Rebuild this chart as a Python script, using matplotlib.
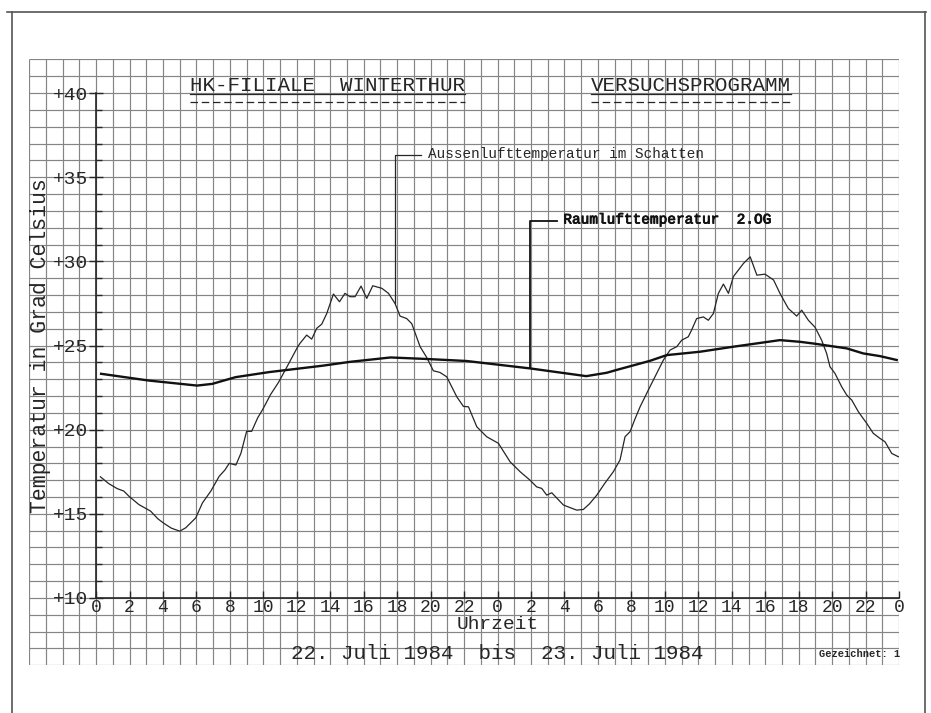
import numpy as np
import matplotlib
matplotlib.use("Agg")
import matplotlib.pyplot as plt
import matplotlib.patheffects as pe
from matplotlib.ticker import FixedLocator

# Stunden ab 22. Juli 0 Uhr
aussen_h = [0.26, 0.75, 1.26, 1.66, 1.96, 2.56, 3.26, 3.70, 4.06, 4.50, 5.00, 5.36,
            5.96, 6.36, 6.86, 7.36, 7.70, 7.96, 8.36, 8.66, 9.00, 9.30, 9.66, 9.96,
            10.44, 10.90, 11.34, 12.04, 12.19, 12.59, 12.89, 13.19, 13.49, 13.79,
            14.19, 14.55, 14.88, 15.18, 15.48, 15.84, 16.18, 16.54, 17.08, 17.48,
            17.87, 18.17, 18.57, 18.87, 19.37, 19.76, 20.16, 20.56, 20.96, 21.56,
            21.96, 22.26, 22.76, 23.35, 24.05, 24.75, 25.35, 25.94, 26.34, 26.64,
            26.94, 27.24, 27.94, 28.73, 29.13, 29.50, 29.93, 30.40, 30.92, 31.32,
            31.62, 31.92, 32.20, 32.52, 33.11, 33.91, 34.31, 34.71, 35.01, 35.40,
            35.60, 35.90, 36.30, 36.60, 36.90, 37.20, 37.50, 37.80, 38.10, 38.70,
            39.10, 39.50, 39.99, 40.50, 40.88, 41.38, 41.88, 42.18, 42.58, 42.98,
            43.37, 43.67, 43.87, 44.17, 44.57, 44.87, 45.17, 45.57, 46.07, 46.46,
            46.86, 47.16, 47.56, 47.96]
aussen_t = [17.2, 16.8, 16.5, 16.35, 16.05, 15.55, 15.16, 14.7, 14.43, 14.15, 13.97, 14.17,
            14.76, 15.65, 16.35, 17.23, 17.6, 18.0, 17.9, 18.6, 19.9, 19.9, 20.7, 21.2,
            22.1, 22.8, 23.6, 24.9, 25.13, 25.62, 25.38, 26.02, 26.27, 26.9,
            28.06, 27.6, 28.1, 27.9, 27.9, 28.53, 27.8, 28.55, 28.4, 28.1,
            27.5, 26.75, 26.6, 26.3, 24.93, 24.3, 23.5, 23.4, 23.14, 21.96,
            21.38, 21.36, 20.17, 19.58, 19.19, 18.09, 17.5, 17.0, 16.6, 16.51,
            16.11, 16.25, 15.52, 15.22, 15.26, 15.6, 16.11, 16.8, 17.5, 18.2,
            19.58, 19.88, 20.6, 21.36, 22.55, 24.13, 24.73, 24.93, 25.32, 25.52,
            25.92, 26.6, 26.7, 26.5, 26.9, 28.1, 28.65, 28.1, 29.1, 29.88,
            30.27, 29.18, 29.24, 28.89, 28.1, 27.2, 26.75, 27.1, 26.5, 26.08,
            25.32, 24.53, 23.74, 23.34, 22.55, 22.06, 21.76, 21.06, 20.37, 19.78,
            19.48, 19.28, 18.59, 18.39]

raum_h = [0.30, 3.14, 6.04, 6.94, 8.34, 10.34, 12.19, 13.54, 15.18, 17.60, 19.77,
          22.15, 25.94, 29.30, 30.52, 31.12, 33.11, 34.11, 36.10, 38.10, 40.88,
          42.08, 42.87, 44.87, 45.86, 46.86, 47.86]
raum_t = [23.32, 22.92, 22.62, 22.72, 23.12, 23.42, 23.64, 23.80, 24.03, 24.29, 24.20,
          24.08, 23.64, 23.18, 23.38, 23.55, 24.09, 24.43, 24.63, 24.93, 25.32,
          25.22, 25.12, 24.83, 24.53, 24.37, 24.14]

hour_ticks = list(range(0, 49, 2))
hour_labels = [str(h % 24) for h in hour_ticks]
temp_ticks = [10, 15, 20, 25, 30, 35, 40]
temp_labels = ["+%d" % t for t in temp_ticks]

plt.rcParams["font.family"] = ["Liberation Mono", "DejaVu Sans Mono"]
INK = "#262626"
GRID = "#858585"

fig = plt.figure(figsize=(9.31, 7.13), dpi=100)
fig.patch.set_facecolor("white")

# rahmen
for xs, ys in [([7 / 931, 926 / 931], [1 - 12 / 713, 1 - 12 / 713]),
               ([12 / 931, 12 / 931], [0, 1 - 12 / 713]),
               ([925 / 931, 925 / 931], [0, 1 - 12 / 713])]:
    fig.add_artist(plt.Line2D(xs, ys, transform=fig.transFigure, color="#555555", lw=1.2))

ax = fig.add_axes([0.0313, 0.0669, 0.9344, 0.8498])
ax.set_xlim(-4, 48)
ax.set_ylim(6, 42)
ax.patch.set_alpha(0)

# millimeterpapier
ax.vlines(np.arange(-4, 49), 6, 42, color=GRID, lw=0.85, zorder=0)
ax.hlines(np.arange(6, 43), -4, 48, color=GRID, lw=0.85, zorder=0)

for s in ["top", "right"]:
    ax.spines[s].set_visible(False)
ax.spines["left"].set_position(("data", 0))
ax.spines["left"].set_bounds(10, 40)
ax.spines["bottom"].set_position(("data", 10))
ax.spines["bottom"].set_bounds(0, 48)
for s in ["left", "bottom"]:
    ax.spines[s].set_color(INK)
    ax.spines[s].set_linewidth(1.2)

ax.set_xticks(hour_ticks, hour_labels)
ax.yaxis.set_major_locator(FixedLocator(temp_ticks))
ax.set_yticklabels(temp_labels)
ax.yaxis.set_minor_locator(FixedLocator(list(range(10, 41))))
ax.tick_params(axis="x", direction="in", length=5, width=1, pad=1, labelsize=13, colors=INK)
ax.tick_params(axis="y", which="major", direction="inout", length=10, width=1, pad=1,
               labelsize=14, colors=INK)
ax.tick_params(axis="y", which="minor", direction="in", length=4, width=1, colors=INK)

ax.plot(aussen_h, aussen_t, color=INK, lw=0.9)
ax.plot(raum_h, raum_t, color="#111111", lw=1.7)

# beschriftungen mit fuehrungslinien
a_x = 17.87
ax.plot([a_x, a_x, 19.4], [np.interp(a_x, aussen_h, aussen_t), 36.3, 36.3], color=INK, lw=0.9)
ax.text(19.85, 36.15, "Aussenlufttemperatur im Schatten", fontsize=10.4, color=INK,
        va="baseline")
r_x = 25.94
ax.plot([r_x, r_x, 27.55], [np.interp(r_x, raum_h, raum_t), 32.4, 32.4], color="#111111", lw=1.3)
ax.text(27.93, 32.25, "Raumlufttemperatur  2.OG", fontsize=10.4, color="#111111",
        va="baseline", path_effects=[pe.withStroke(linewidth=0.6, foreground="#111111")])

titles = [ax.text(5.6, 40.15, "HK-FILIALE  WINTERTHUR", fontsize=15, color=INK, va="baseline"),
          ax.text(29.6, 40.15, "VERSUCHSPROGRAMM", fontsize=15, color=INK, va="baseline")]

ax.text(-3.35, 25.0, "Temperatur in Grad Celsius", rotation=90, fontsize=15.5, color=INK,
        ha="center", va="center")
ax.text(24, 8.4, "Uhrzeit", fontsize=14, color=INK, ha="center", va="center")
ax.text(24, 6.7, "22. Juli 1984  bis  23. Juli 1984", fontsize=15, color=INK,
        ha="center", va="center")
ax.text(48.1, 6.7, "Gezeichnet: 1", fontsize=7.5, fontweight="bold", color=INK,
        ha="right", va="center")

fig.canvas.draw()
inv = ax.transData.inverted()
for t in titles:
    bb = t.get_window_extent()
    x0 = inv.transform((bb.x0, bb.y0))[0]
    x1 = inv.transform((bb.x1, bb.y0))[0]
    ax.plot([x0, x1], [39.95, 39.95], color=INK, lw=0.9)
    ax.plot([x0, x1], [39.45, 39.45], color=INK, lw=0.9, dashes=(6, 3))

fig.savefig("out.png", dpi=100, facecolor="white")
